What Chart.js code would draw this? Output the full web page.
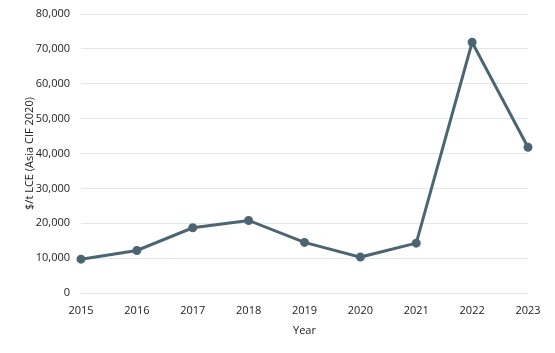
<!DOCTYPE html>
<html lang="en">
<head>
    <meta charset="UTF-8">
    <title>Lithium Price</title>
    <script src="https://cdn.jsdelivr.net/npm/chart.js"></script>
    <style>
        body {
            margin: 0;
            background: white;
        }
        #priceChart {
            display: block;
        }
    </style>
</head>
<body>
    <canvas id="priceChart" width="555" height="353"></canvas>

    <script>
        const years = ['2015', '2016', '2017', '2018', '2019', '2020', '2021', '2022', '2023'];
        const prices = [9700, 12200, 18700, 20800, 14500, 10300, 14300, 71900, 41800];

        const lineColor = '#4b6571';
        const fontFamily = "'Open Sans', 'Liberation Sans', sans-serif";

        const ctx = document.getElementById('priceChart').getContext('2d');

        new Chart(ctx, {
            type: 'line',
            data: {
                labels: years,
                datasets: [{
                    label: 'Price',
                    data: prices,
                    borderColor: lineColor,
                    backgroundColor: lineColor,
                    borderWidth: 3,
                    pointRadius: 3,
                    pointBackgroundColor: lineColor,
                    tension: 0
                }]
            },
            options: {
                responsive: false,
                animation: false,
                layout: {
                    padding: { top: 14, right: 27, bottom: 12, left: 23 }
                },
                plugins: {
                    legend: { display: false },
                    tooltip: { enabled: false }
                },
                scales: {
                    x: {
                        offset: false,
                        grid: { display: false, drawTicks: false },
                        border: { display: false },
                        ticks: {
                            color: '#222',
                            font: { family: fontFamily, size: 11 },
                            padding: 11,
                            maxRotation: 0
                        },
                        title: {
                            display: true,
                            text: 'Year',
                            color: '#222',
                            font: { family: fontFamily, size: 11 },
                            padding: { top: 0 }
                        },
                        afterFit: scale => { scale.height = 48; }
                    },
                    y: {
                        min: 0,
                        max: 80000,
                        grid: { color: '#e1e8ec', drawTicks: false },
                        border: { display: false },
                        ticks: {
                            stepSize: 10000,
                            color: '#222',
                            font: { family: fontFamily, size: 11 },
                            padding: 11,
                            callback: v => v.toLocaleString('en-US')
                        },
                        title: {
                            display: true,
                            text: '$/t LCE (Asia CIF 2020)',
                            color: '#222',
                            font: { family: fontFamily, size: 11 },
                            padding: { top: 0, bottom: 1 }
                        },
                        afterFit: scale => {
                            scale.width = 58;
                            scale.paddingTop = 0;
                        }
                    }
                }
            }
        });
    </script>
</body>
</html>
